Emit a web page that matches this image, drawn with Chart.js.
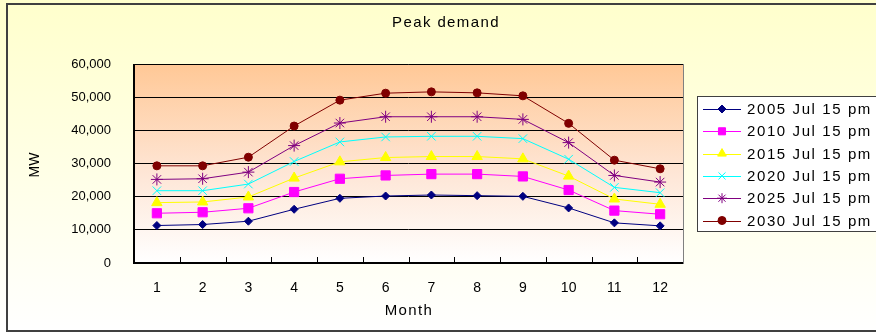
<!DOCTYPE html>
<html>
<head>
<meta charset="utf-8">
<script src="https://cdn.jsdelivr.net/npm/chart.js@4/dist/chart.umd.min.js"></script>
<style>
  html, body { margin: 0; padding: 0; background: #fff; }
  #wrap { width: 876px; height: 333px; position: relative; }
</style>
</head>
<body>
<div id="wrap"><canvas id="c" width="876" height="333"></canvas></div>
<script>
const months = ['1', '2', '3', '4', '5', '6', '7', '8', '9', '10', '11', '12'];
const yTicks = [0, 10000, 20000, 30000, 40000, 50000, 60000];

const d2005 = [11300, 11600, 12600, 16200, 19500, 20200, 20500, 20300, 20100, 16600, 12100, 11200];
const d2010 = [15000, 15300, 16500, 21400, 25400, 26400, 26800, 26800, 26100, 22000, 15800, 14700];
const d2015 = [18200, 18400, 19900, 25600, 30500, 31800, 32100, 32100, 31400, 26200, 19300, 17700];
const d2020 = [21800, 21800, 23800, 30600, 36500, 38000, 38200, 38200, 37500, 31300, 22800, 21200];
const d2025 = [25200, 25400, 27400, 35400, 42200, 44100, 44100, 44100, 43300, 36300, 26400, 24400];
const d2030 = [29300, 29300, 31900, 41300, 49100, 51200, 51600, 51300, 50400, 42100, 31000, 28400];

const FONT = '"Liberation Sans", Arial, sans-serif';

function series(label, data, color, style, radius) {
  return {
    label: label,
    data: data,
    borderColor: color,
    backgroundColor: color,
    pointStyle: style,
    pointRadius: radius,
    pointHoverRadius: radius,
    pointBorderColor: color,
    pointBackgroundColor: color,
    pointBorderWidth: 1,
    borderWidth: 1,
    tension: 0
  };
}

const datasets = [
  series('2005 Jul 15 pm', d2005, '#000080', 'rectRot', 4),
  series('2010 Jul 15 pm', d2010, '#FF00FF', 'rect', 6.5),
  series('2015 Jul 15 pm', d2015, '#FFFF00', 'triangle', 6),
  series('2020 Jul 15 pm', d2020, '#00FFFF', 'crossRot', 6),
  series('2025 Jul 15 pm', d2025, '#800080', 'star', 6),
  series('2030 Jul 15 pm', d2030, '#800000', 'circle', 4)
];

// background, frame, title, axis titles and legend
const decor = {
  id: 'decor',
  beforeDraw(chart) {
    const ctx = chart.ctx;
    const a = chart.chartArea;
    ctx.save();
    let g = ctx.createLinearGradient(0, 0, 0, 333);
    g.addColorStop(0, '#FFFFCC');
    g.addColorStop(1, '#FFFFFF');
    ctx.fillStyle = g;
    ctx.fillRect(0, 0, 876, 333);
    // frame
    ctx.strokeStyle = '#404040';
    ctx.lineWidth = 2;
    ctx.beginPath();
    ctx.moveTo(876, 4); ctx.lineTo(7, 4); ctx.lineTo(7, 331); ctx.lineTo(876, 331);
    ctx.stroke();
    // plot area
    g = ctx.createLinearGradient(0, a.top, 0, a.bottom);
    g.addColorStop(0, '#FFC896');
    g.addColorStop(0.55, '#FEE6D6');
    g.addColorStop(1, '#FFFFFF');
    ctx.fillStyle = g;
    ctx.fillRect(a.left, a.top, a.right - a.left, a.bottom - a.top);
    ctx.strokeStyle = '#808080';
    ctx.lineWidth = 1;
    ctx.strokeRect(a.left + 0.5, a.top + 0.5, a.right - a.left, a.bottom - a.top);
    ctx.restore();
  },
  afterDraw(chart) {
    const ctx = chart.ctx;
    const a = chart.chartArea;
    const xs = chart.scales.x;
    ctx.save();
    // axis lines
    ctx.strokeStyle = '#000';
    ctx.lineWidth = 2;
    ctx.beginPath();
    ctx.moveTo(a.left, a.top); ctx.lineTo(a.left, a.bottom); ctx.lineTo(a.right, a.bottom);
    ctx.stroke();
    // inner tick marks between categories
    ctx.lineWidth = 1;
    const step = xs.getPixelForValue(1) - xs.getPixelForValue(0);
    ctx.beginPath();
    for (let i = 1; i < months.length; i++) {
      const x = Math.round(xs.getPixelForValue(i) - step / 2) + 0.5;
      ctx.moveTo(x, a.bottom); ctx.lineTo(x, a.bottom - 6);
    }
    ctx.stroke();
    // titles
    ctx.fillStyle = '#000';
    ctx.font = '15px ' + FONT;
    ctx.letterSpacing = '1.4px';
    ctx.textAlign = 'center';
    ctx.textBaseline = 'middle';
    ctx.fillText('Peak demand', 446, 23);
    ctx.fillText('Month', 409, 311);
    ctx.letterSpacing = '0px';
    ctx.font = '14px ' + FONT;
    ctx.save();
    ctx.translate(35, 165);
    ctx.rotate(-Math.PI / 2);
    ctx.fillText('MW', 0, 0);
    ctx.restore();
    // legend
    const lx = 697, ly = 96, lw = 200, lh = 135;
    ctx.fillStyle = '#FFFFFF';
    ctx.fillRect(lx, ly, lw, lh);
    ctx.strokeStyle = '#404040';
    ctx.lineWidth = 1;
    ctx.strokeRect(lx + 0.5, ly + 0.5, lw, lh);
    ctx.textAlign = 'left';
    chart.data.datasets.forEach((ds, i) => {
      const y = 109 + i * 22.3;
      ctx.strokeStyle = ds.borderColor;
      ctx.lineWidth = 1;
      ctx.beginPath();
      ctx.moveTo(703, Math.round(y) + 0.5); ctx.lineTo(741, Math.round(y) + 0.5);
      ctx.stroke();
      ctx.fillStyle = ds.backgroundColor;
      Chart.helpers.drawPoint(ctx, {
        pointStyle: ds.pointStyle,
        radius: Math.min(ds.pointRadius, 5),
        borderWidth: 1,
        rotation: 0
      }, 722, y);
      ctx.fillStyle = '#000';
      ctx.font = '15px ' + FONT;
      ctx.letterSpacing = '1.6px';
      ctx.fillText(ds.label, 747, y + 1);
      ctx.letterSpacing = '0px';
    });
    ctx.restore();
  }
};

new Chart(document.getElementById('c'), {
  type: 'line',
  data: { labels: months, datasets: datasets },
  options: {
    responsive: false,
    animation: false,
    events: [],
    layout: { padding: { left: 0, top: 64, right: 193, bottom: 0 } },
    plugins: {
      legend: { display: false },
      title: { display: false },
      tooltip: { enabled: false }
    },
    scales: {
      x: {
        offset: true,
        grid: { display: false, drawTicks: false },
        border: { display: false },
        ticks: { padding: 17, color: '#000', font: { family: FONT, size: 14 }, maxRotation: 0, autoSkip: false },
        afterFit(scale) { scale.height = 70; }
      },
      y: {
        min: 0,
        max: 60000,
        afterBuildTicks(scale) { scale.ticks = yTicks.map(v => ({ value: v })); },
        grid: { color: '#000', lineWidth: 1, drawTicks: false },
        border: { display: false },
        ticks: {
          padding: 23,
          color: '#000',
          font: { family: FONT, size: 13 },
          callback: v => v.toLocaleString('en-US')
        },
        afterFit(scale) { scale.width = 134; }
      }
    }
  },
  plugins: [decor]
});
</script>
</body>
</html>
